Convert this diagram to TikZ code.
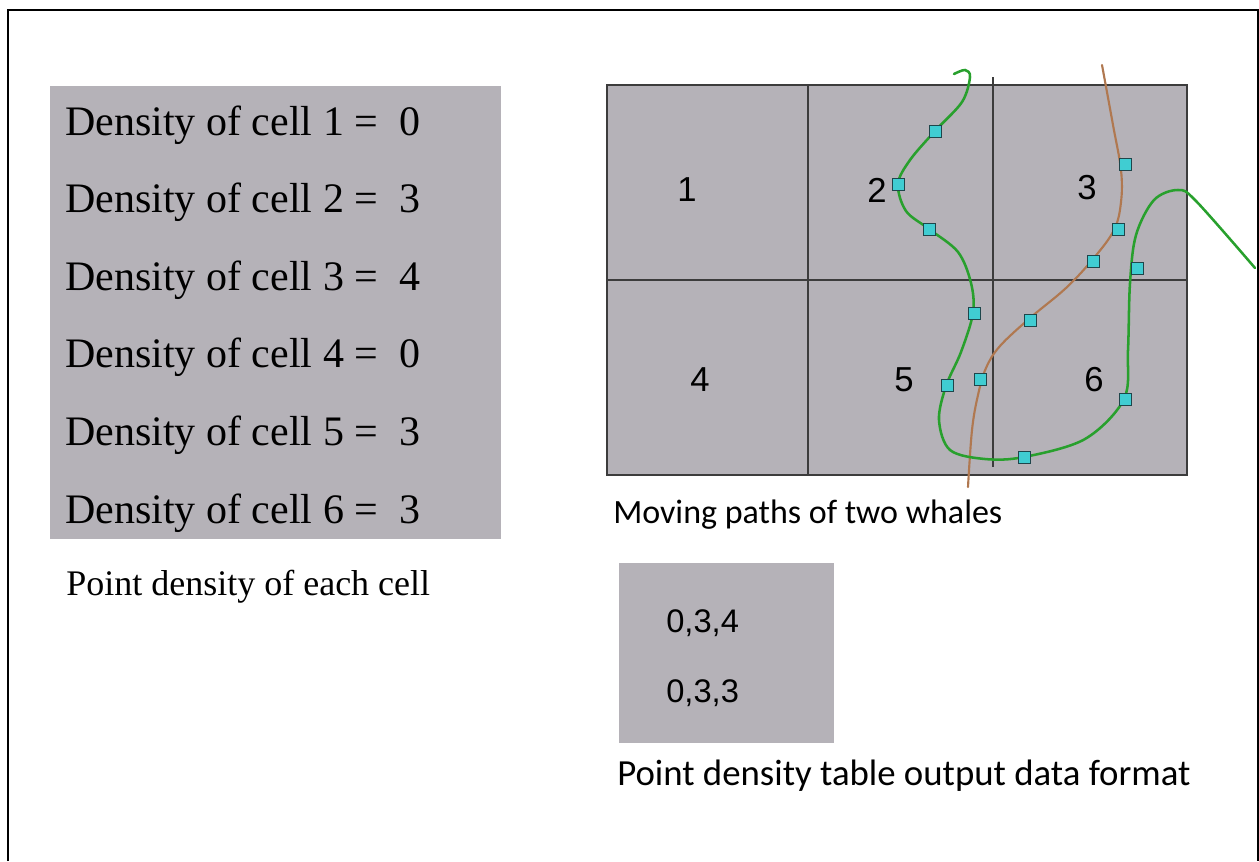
\documentclass[tikz,border=0pt]{standalone}
\usepackage{fontspec}
\setmainfont{Liberation Serif}
\newfontfamily\arialf{Liberation Sans}
\newfontfamily\calf{Carlito}
\definecolor{cellgray}{RGB}{181,178,184}
\definecolor{gridline}{RGB}{60,60,60}
\definecolor{pathgreen}{RGB}{40,160,45}
\definecolor{pathbrown}{RGB}{176,120,80}
\definecolor{markfill}{RGB}{64,205,210}
\definecolor{markdraw}{RGB}{30,70,75}
\tikzset{
  dens/.style={anchor=base west, inner sep=0pt, font=\fontsize{31.5}{36}\selectfont},
  capt/.style={anchor=base west, inner sep=0pt, font=\calf\fontsize{25.5}{30}\selectfont},
  celllab/.style={inner sep=0pt, font=\arialf\fontsize{26}{30}\selectfont},
  tablab/.style={anchor=base west, inner sep=0pt, font=\arialf\fontsize{24.5}{28}\selectfont},
  gline/.style={draw=gridline, line width=1.1pt},
  mk/.style={draw=markdraw, fill=markfill, line width=0.6pt, minimum size=9pt, inner sep=0pt, rectangle},
  greenpath/.style={draw=pathgreen, line width=1.9pt, line cap=round},
  brownpath/.style={draw=pathbrown, line width=1.6pt, line cap=round},
}
\begin{document}
\begin{tikzpicture}[x=0.75pt, y=-0.75pt]
\useasboundingbox (0,0) rectangle (1259,861);
% outer frame
\draw[black, line width=1.8pt] (8,861) -- (8,10) -- (1258,10) -- (1258,861);

% left box
\fill[cellgray] (50,86) rectangle (501,539);
\node[dens] (d1) at (65,135) {Density of cell 1 =~~0};
\node[dens] (d2) at (65,212.6) {Density of cell 2 =~~3};
\node[dens] (d3) at (65,290.2) {Density of cell 3 =~~4};
\node[dens] (d4) at (65,367.8) {Density of cell 4 =~~0};
\node[dens] (d5) at (65,445.4) {Density of cell 5 =~~3};
\node[dens] (d6) at (65,523) {Density of cell 6 =~~3};
\node[anchor=base west, inner sep=0pt, font=\fontsize{27}{32}\selectfont] (cap1) at (66,595) {Point density of each cell};

% grid
\fill[cellgray] (607,85) rectangle (1187,475);
\draw[gline] (607,85) rectangle (1187,475);
\draw[gline] (808,85) -- (808,475);
\draw[gline] (993,77) -- (993,467);
\draw[gline] (607,280) -- (1187,280);

% whale paths
\draw[brownpath] plot[smooth, tension=0.6] coordinates {(1102,65) (1113,125) (1121,170) (1121,202) (1114,230) (1093,259) (1066,288) (1030,318) (1000,346) (986,368) (978,395) (972,430) (968,487)};
\draw[greenpath] plot[smooth, tension=0.55] coordinates {(954,74) (965,70) (970,77) (962,102) (935,131) (910,160) (898,184) (906,211) (929,229) (958,252) (971,283) (973,313) (961,352) (946,386) (939,420) (950,450) (985,459) (1024,457) (1085,439) (1124,399) (1128,350) (1130,283) (1136,235) (1154,200) (1178,190) (1196,201) (1255,268)};

% markers
\node[mk] (g1) at (935,131) {};
\node[mk] (g2) at (898,184) {};
\node[mk] (g3) at (929,229) {};
\node[mk] (g4) at (974,313) {};
\node[mk] (g5) at (947,385) {};
\node[mk] (g6) at (1024,457) {};
\node[mk] (g7) at (1125,399) {};
\node[mk] (g8) at (1137,268) {};
\node[mk] (b1) at (1125,164) {};
\node[mk] (b2) at (1118,229) {};
\node[mk] (b3) at (1093,261) {};
\node[mk] (b4) at (1030,320) {};
\node[mk] (b5) at (980,379) {};

% cell labels
\node[celllab] (c1) at (687,190) {1};
\node[celllab] (c2) at (877,190) {2};
\node[celllab] (c3) at (1087,188) {3};
\node[celllab] (c4) at (700,380) {4};
\node[celllab] (c5) at (904,380) {5};
\node[celllab] (c6) at (1094,380) {6};

\node[capt] (cap2) at (613,523) {Moving paths of two whales};

% small table box
\fill[cellgray] (619,563) rectangle (834,743);
\node[tablab] (t1) at (666,632) {0,3,4};
\node[tablab] (t2) at (666,702) {0,3,3};
\node[anchor=base west, inner sep=0pt, font=\calf\fontsize{27.6}{32}\selectfont] (cap3) at (617,785) {Point density table output data format};
\end{tikzpicture}
\end{document}
